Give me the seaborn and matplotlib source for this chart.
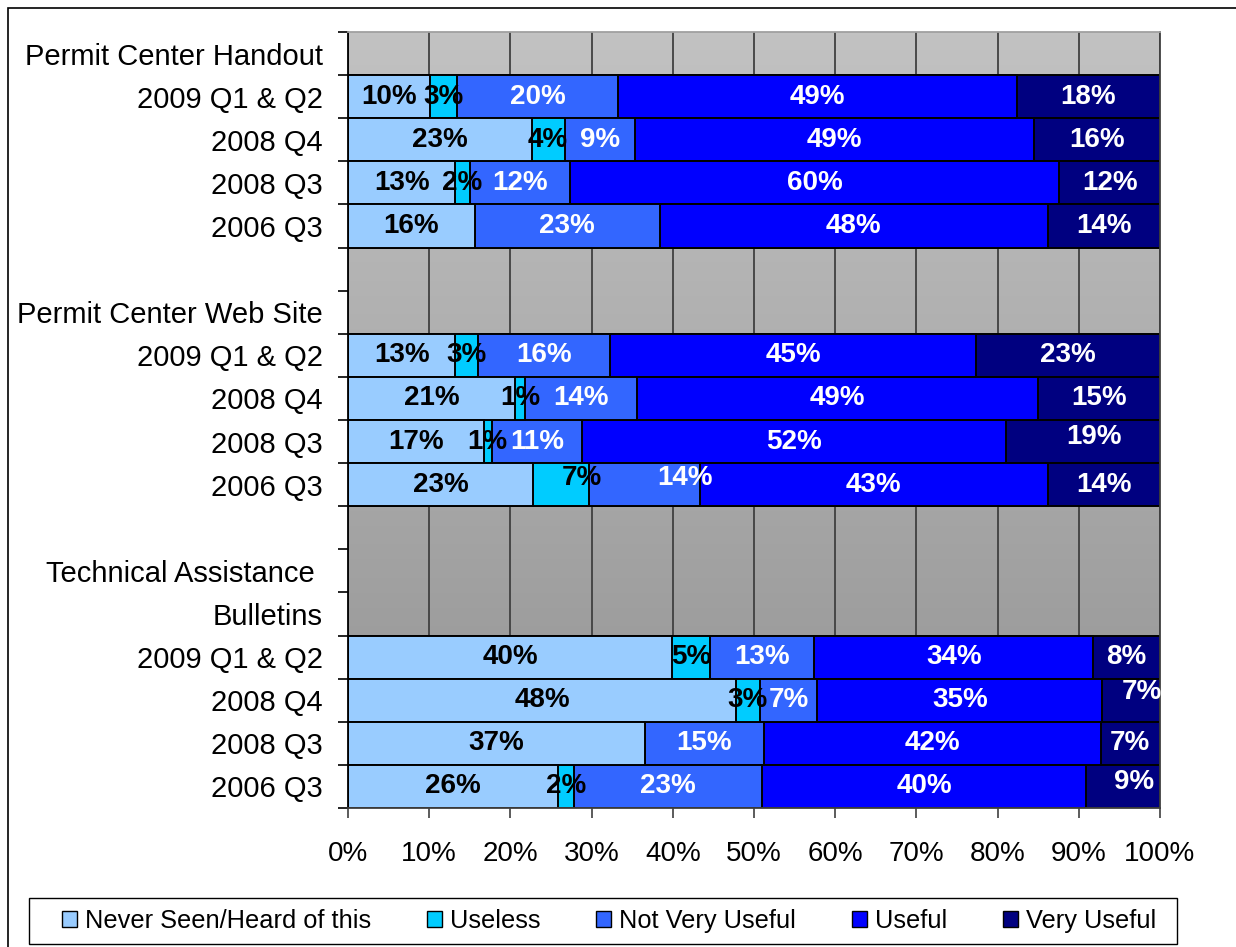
import numpy as np
import pandas as pd
import matplotlib
matplotlib.use("Agg")
import matplotlib.pyplot as plt
import seaborn as sns
from matplotlib.colors import LinearSegmentedColormap
from matplotlib.patches import Patch, Rectangle

sources = ["Permit Center Handout", "Permit Center Web Site", "Technical Assistance Bulletins"]
periods = ["2009 Q1 & Q2", "2008 Q4", "2008 Q3", "2006 Q3"]
# header text lines shown above each group of bars (blank line = empty row)
header_lines = [["Permit Center Handout"],
                ["", "Permit Center Web Site"],
                ["", "Technical Assistance ", "Bulletins"]]

series = ["Never Seen/Heard of this", "Useless", "Not Very Useful", "Useful", "Very Useful"]
colors = ["#99CCFF", "#00CCFF", "#3366FF", "#0000FF", "#000080"]
text_colors = ["black", "black", "white", "white", "white"]

# percentages, source by source, periods in order above
never_seen = [10.1, 22.6, 13.2, 15.6,  13.2, 20.6, 16.7, 22.8,  39.9, 47.8, 36.6, 25.9]
useless = [3.3, 4.1, 1.8, 0.0,  2.8, 1.2, 1.0, 6.9,  4.7, 2.9, 0.0, 1.9]
not_very_useful = [19.9, 8.6, 12.3, 22.8,  16.3, 13.8, 11.1, 13.6,  12.8, 7.1, 14.6, 23.2]
useful = [49.1, 49.2, 60.3, 47.8,  45.1, 49.4, 52.2, 42.9,  34.4, 35.1, 41.5, 39.9]
very_useful = [17.6, 15.5, 12.4, 13.8,  22.6, 15.0, 19.0, 13.8,  8.2, 7.1, 7.3, 9.1]

# small label shifts (points) that the original chart had
nudges = {(1, 3, 1): (15, 5), (1, 3, 2): (29, 5), (1, 2, 4): (8, 3),
          (2, 1, 4): (8, 6), (2, 3, 4): (8, 3)}

# build row order: header rows then the four periods for each source
order, labels, keys = [], [], []
for s, src in enumerate(sources):
    for j, line in enumerate(header_lines[s]):
        order.append(f"h{s}_{j}")
        labels.append(line)
    for p, per in enumerate(periods):
        order.append(f"{src}|{per}")
        labels.append(per)
        keys.append((s, p))

vals = np.array([never_seen, useless, not_very_useful, useful, very_useful]).T
cum = np.cumsum(vals, axis=1)
df = pd.DataFrame({"row": [f"{sources[s]}|{periods[p]}" for s, p in keys]})
for k in range(5):
    df[f"cum{k}"] = cum[:, k]

sns.set_style("ticks")
plt.rcParams["font.family"] = ["Liberation Sans", "DejaVu Sans"]
plt.rcParams["text.color"] = "black"

fig = plt.figure(figsize=(12.36, 9.47), dpi=100)
ax = fig.add_axes([348 / 1236, 1 - 808 / 947, 812 / 1236, 776 / 947])

for k in reversed(range(5)):
    sns.barplot(data=df, x=f"cum{k}", y="row", order=order, orient="h",
                color=colors[k], saturation=1, width=1.0, errorbar=None,
                edgecolor="black", linewidth=1.4, ax=ax, zorder=2)

n = len(order)
cmap = LinearSegmentedColormap.from_list("bg", ["#C2C2C2", "#939393"])
ax.imshow(np.linspace(0, 1, 256).reshape(-1, 1), cmap=cmap, aspect="auto",
          extent=[0, 100, n - 0.5, -0.5], zorder=0)
ax.set_xlim(0, 100)
ax.set_ylim(n - 0.5, -0.5)

for i, (s, p) in enumerate(keys):
    ypos = order.index(f"{sources[s]}|{periods[p]}")
    for k in range(5):
        v = vals[i, k]
        if v < 0.5:
            continue
        dx, dy = nudges.get((s, p, k), (0, 0))
        ax.annotate(f"{v:.0f}%", xy=(cum[i, k] - v / 2, ypos), xytext=(dx, dy),
                    textcoords="offset points", ha="center", va="center",
                    fontsize=20, fontweight="bold", color=text_colors[k], zorder=5)

ax.set_axisbelow(True)
ax.xaxis.grid(True, color="#404040", linewidth=1.3)
ax.yaxis.grid(False)
ax.set_xticks(np.arange(0, 101, 10))
ax.set_xticklabels([f"{t}%" for t in range(0, 101, 10)], fontsize=20)
ax.tick_params(axis="x", direction="out", length=7, width=1.2, color="#404040",
               pad=17, labelcolor="black")
ax.set_yticks(range(n))
ax.set_yticklabels(labels, fontsize=21)
ax.tick_params(axis="y", which="major", length=0, pad=18, labelcolor="black")
ax.set_yticks(np.arange(-0.5, n, 1), minor=True)
ax.tick_params(axis="y", which="minor", length=7, width=1.2, color="black")
ax.set_xlabel("")
ax.set_ylabel("")
ax.spines["left"].set_color("black")
ax.spines["bottom"].set_color("#404040")
ax.spines["top"].set_color("#A0A0A0")
ax.spines["right"].set_color("#404040")
for sp in ax.spines.values():
    sp.set_linewidth(1.3)

handles = [Patch(facecolor=c, edgecolor="black", linewidth=1.0) for c in colors]
fig.legend(handles, series, ncol=5, loc="center left",
           bbox_to_anchor=(62 / 1236, 1 - 921 / 947), fontsize=18.3,
           frameon=False, handlelength=0.6, handleheight=0.6, handletextpad=0.3,
           columnspacing=2.2, borderpad=0, borderaxespad=0)
fig.add_artist(Rectangle((29 / 1236, 1 - 944 / 947), 1148 / 1236, 46 / 947,
                         transform=fig.transFigure, fill=False,
                         edgecolor="black", linewidth=1.0))

fig.add_artist(Rectangle((8 / 1236, -0.1), 2, 1.1 - 8 / 947, transform=fig.transFigure,
                         fill=False, edgecolor="black", linewidth=1.2))

fig.savefig("out.png", dpi=100)
